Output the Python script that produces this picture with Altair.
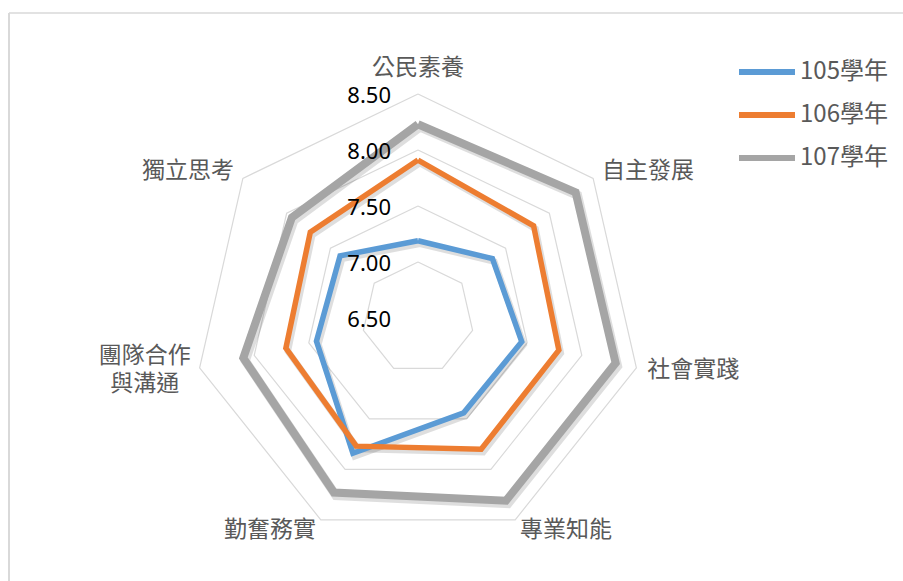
import altair as alt
import pandas as pd

# ---- data ----
categories = ["公民素養", "自主發展", "社會實踐", "專業知能", "勤奮務實", "團隊合作\n與溝通", "獨立思考"]
series = ["105學年", "106學年", "107學年"]
v105 = [7.19, 7.35, 7.45, 7.44, 7.84, 7.43, 7.39]
v106 = [7.91, 7.82, 7.79, 7.80, 7.77, 7.71, 7.73]
v107 = [8.23, 8.30, 8.31, 8.31, 8.23, 8.10, 7.94]
grid_levels = [7.0, 7.5, 8.0, 8.5]
tick_levels = [6.5, 7.0, 7.5, 8.0, 8.5]
tick_labels = ["6.50", "7.00", "7.50", "8.00", "8.50"]
colors = ["#5B9BD5", "#ED7D31", "#A5A5A5"]
center_value = 6.5

n = len(categories)
rows = []
for s, vals in zip(series, [v105, v106, v107]):
    for i in range(n + 1):
        rows.append({"series": s, "idx": i, "value": vals[i % n]})
lines_df = pd.DataFrame(rows)
grid_df = pd.DataFrame([{"level": L, "idx": i, "value": L} for L in grid_levels for i in range(n + 1)])
tick_df = pd.DataFrame({"value": tick_levels, "label": tick_labels})
cat_df = pd.DataFrame({"category": categories, "idx": list(range(n)), "value": [center_value + 2.1] * n})

# ---- polar -> cartesian through expressions ----
def polar(ch):
    return ch.transform_calculate(
        theta=f"2*PI*datum.idx/{n}",
        r=f"datum.value-{center_value}",
    ).transform_calculate(
        x="datum.r*sin(datum.theta)",
        y="datum.r*cos(datum.theta)",
    )

W, H = 894, 568
cx, cy, ppu = 409, 305, 112.0
xdom = [-cx / ppu, (W - cx) / ppu]
ydom = [-(H - cy) / ppu, cy / ppu]
X = alt.X("x:Q", scale=alt.Scale(domain=xdom, nice=False, zero=False), axis=None)
Y = alt.Y("y:Q", scale=alt.Scale(domain=ydom, nice=False, zero=False), axis=None)

# frame (top and left edges of the chart area)
frame_top = alt.Chart(pd.DataFrame({"k": [0]})).mark_rule(color="#D9D9D9", strokeWidth=1.3).encode(
    x=alt.value(0), x2=alt.value(W), y=alt.value(0))
frame_left = alt.Chart(pd.DataFrame({"k": [0]})).mark_rule(color="#D9D9D9", strokeWidth=2).encode(
    x=alt.value(0), y=alt.value(0), y2=alt.value(H))

grid = polar(alt.Chart(grid_df).mark_line(color="#D9D9D9", strokeWidth=1.2)).encode(
    x=X, y=Y, detail="level:N", order="idx:Q"
)

color = alt.Color(
    "series:N",
    scale=alt.Scale(domain=series, range=colors),
    legend=alt.Legend(
        title=None, orient="none", legendX=745, legendY=46, padding=0,
        symbolType="M-2.8,0H2.8", symbolSize=400, symbolStrokeWidth=6,
        labelFont="Noto Sans CJK TC", labelFontSize=24, labelColor="#595959",
        labelOffset=20, rowPadding=18,
    ),
)

def series_layers(names, width):
    base = alt.Chart(lines_df).transform_filter(alt.FieldOneOfPredicate(field="series", oneOf=names))
    sh = polar(base.mark_line(color="#000000", opacity=0.13, xOffset=2, yOffset=3, strokeWidth=width + 1)).encode(
        x=X, y=Y, detail="series:N", order="idx:Q")
    ln = polar(base.mark_line(strokeWidth=width, strokeJoin="miter")).encode(
        x=X, y=Y, order="idx:Q", color=color)
    return sh, ln

sh_a, ln_a = series_layers(series[:2], 5.5)
sh_b, ln_b = series_layers(series[2:], 8)

ticks = polar(
    alt.Chart(tick_df).transform_calculate(idx="0").mark_text(
        align="right", baseline="middle", dx=-27, dy=2, font="Noto Sans", fontSize=22, color="#000000"
    )
).encode(x=X, y=Y, text="label:N")

font = "Noto Sans CJK TC"
lab_common = dict(baseline="middle", font=font, fontSize=23, color="#595959")
lab_top = polar(alt.Chart(cat_df).transform_filter("datum.idx == 0").mark_text(align="center", dy=-15, **lab_common)).encode(
    x=X, y=Y, text="category:N")
lab_left = polar(alt.Chart(cat_df).transform_filter("datum.idx >= 1 && datum.idx <= 3").mark_text(align="left", **lab_common)).encode(
    x=X, y=Y, text="category:N")
lab_right = polar(alt.Chart(cat_df).transform_filter("datum.idx == 4 || datum.idx == 6").mark_text(align="right", **lab_common)).encode(
    x=X, y=Y, text="category:N")
lab_team = polar(alt.Chart(cat_df).transform_filter("datum.idx == 5").mark_text(
    align="center", dx=-44, dy=-14, lineBreak="\n", lineHeight=28, **lab_common)).encode(
    x=X, y=Y, text="category:N")

chart = alt.layer(frame_top, frame_left, grid, sh_a, sh_b, ln_a, ln_b, ticks,
                  lab_top, lab_left, lab_right, lab_team).properties(
    width=W, height=H,
    padding={"left": 9, "top": 13, "right": 0, "bottom": 0},
    autosize=alt.AutoSizeParams(type="none"),
    background="#FFFFFF",
).configure_view(stroke=None)

chart.save("out.html", embed_options={"renderer": "svg", "actions": False})
